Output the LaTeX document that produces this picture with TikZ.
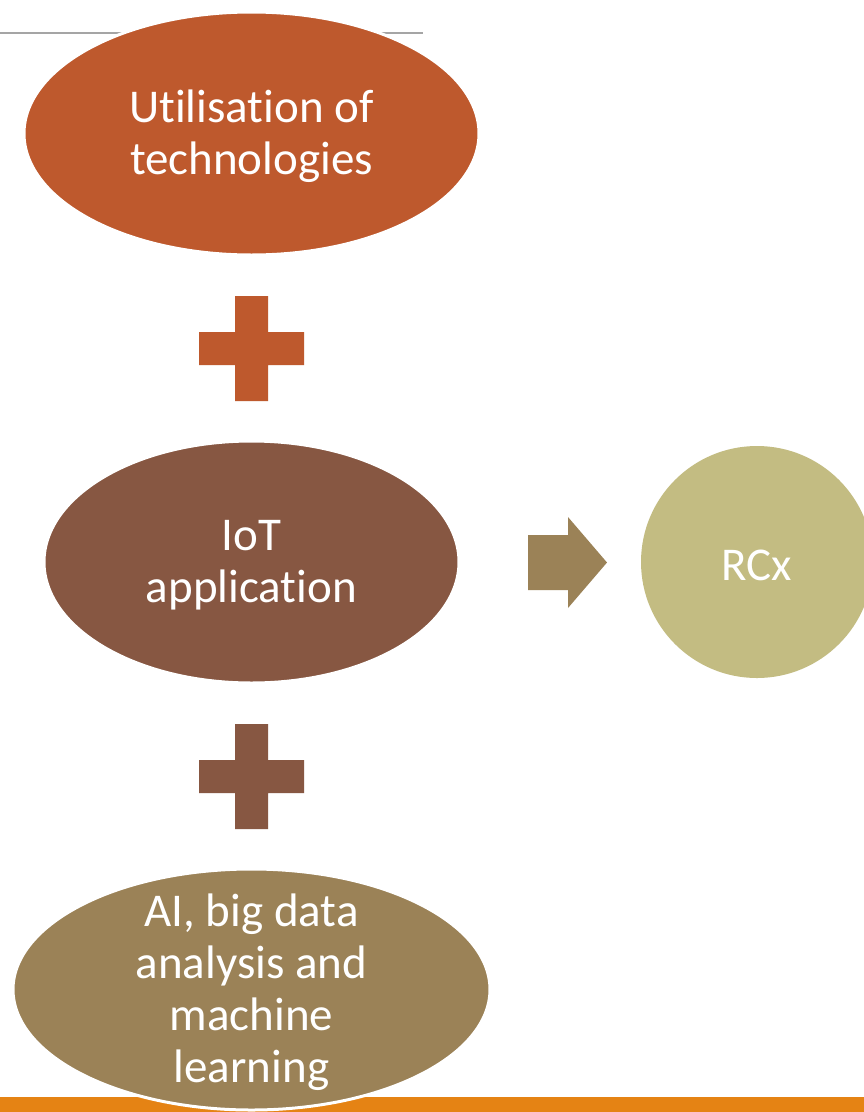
\documentclass[tikz,border=0pt]{standalone}
\usepackage{fontspec}
\setmainfont{Carlito}[Ligatures=NoCommon]
\usetikzlibrary{shapes.geometric}
\definecolor{rust}{HTML}{BE592D}
\definecolor{umber}{HTML}{875742}
\definecolor{khaki}{HTML}{9B8257}
\definecolor{olive}{HTML}{C3BC82}
\definecolor{barorange}{HTML}{E58314}
\definecolor{rulegray}{HTML}{A5A5A5}
\begin{document}
\begin{tikzpicture}[x=1pt,y=-1pt,line join=round,
	blob/.style={ellipse,draw=white,line width=3pt,inner sep=0pt},
	txt/.style={text=white,align=center,yshift=-3pt,font=\fontsize{47}{52}\selectfont}]
	\clip (0,0) rectangle (864,1112);
	\fill[white] (0,0) rectangle (864,1112);
	\draw[rulegray,line width=2.5pt] (0,33)--(423,33);
	\fill[barorange] (0,1097) rectangle (864,1112);
	% ellipses
	\node[blob,fill=rust,minimum width=455,minimum height=243] (tech) at (251.5,133.5) {};
	\node[txt] (techtxt) at (tech) {Utilisation of\\technologies};
	\node[blob,fill=umber,minimum width=415,minimum height=242] (iot) at (251.5,562) {};
	\node[txt] (iottxt) at (iot) {IoT\\application};
	\node[blob,fill=khaki,minimum width=477,minimum height=241] (ai) at (251.5,989.5) {};
	\node[txt] (aitxt) at (ai) {AI, big data\\analysis and\\machine\\learning};
	\node[circle,fill=olive,minimum size=232,inner sep=0pt] (rcx) at (757,562) {};
	\node[txt] (rcxtxt) at (rcx) {RCx};
	% plus signs
	\foreach \y/\c in {348.5/rust,776.5/umber}{
		\begin{scope}[shift={(251.5,\y)}]
			\fill[\c] (-16.5,-52.5)--(16.5,-52.5)--(16.5,-16.5)--(52.5,-16.5)--(52.5,16.5)--(16.5,16.5)
			--(16.5,52.5)--(-16.5,52.5)--(-16.5,16.5)--(-52.5,16.5)--(-52.5,-16.5)--(-16.5,-16.5)--cycle;
		\end{scope}
	}
	% block arrow
	\fill[khaki] (528,535)--(568,535)--(568,517)--(607,562.5)--(568,608)--(568,590)--(528,590)--cycle;
\end{tikzpicture}
\end{document}
